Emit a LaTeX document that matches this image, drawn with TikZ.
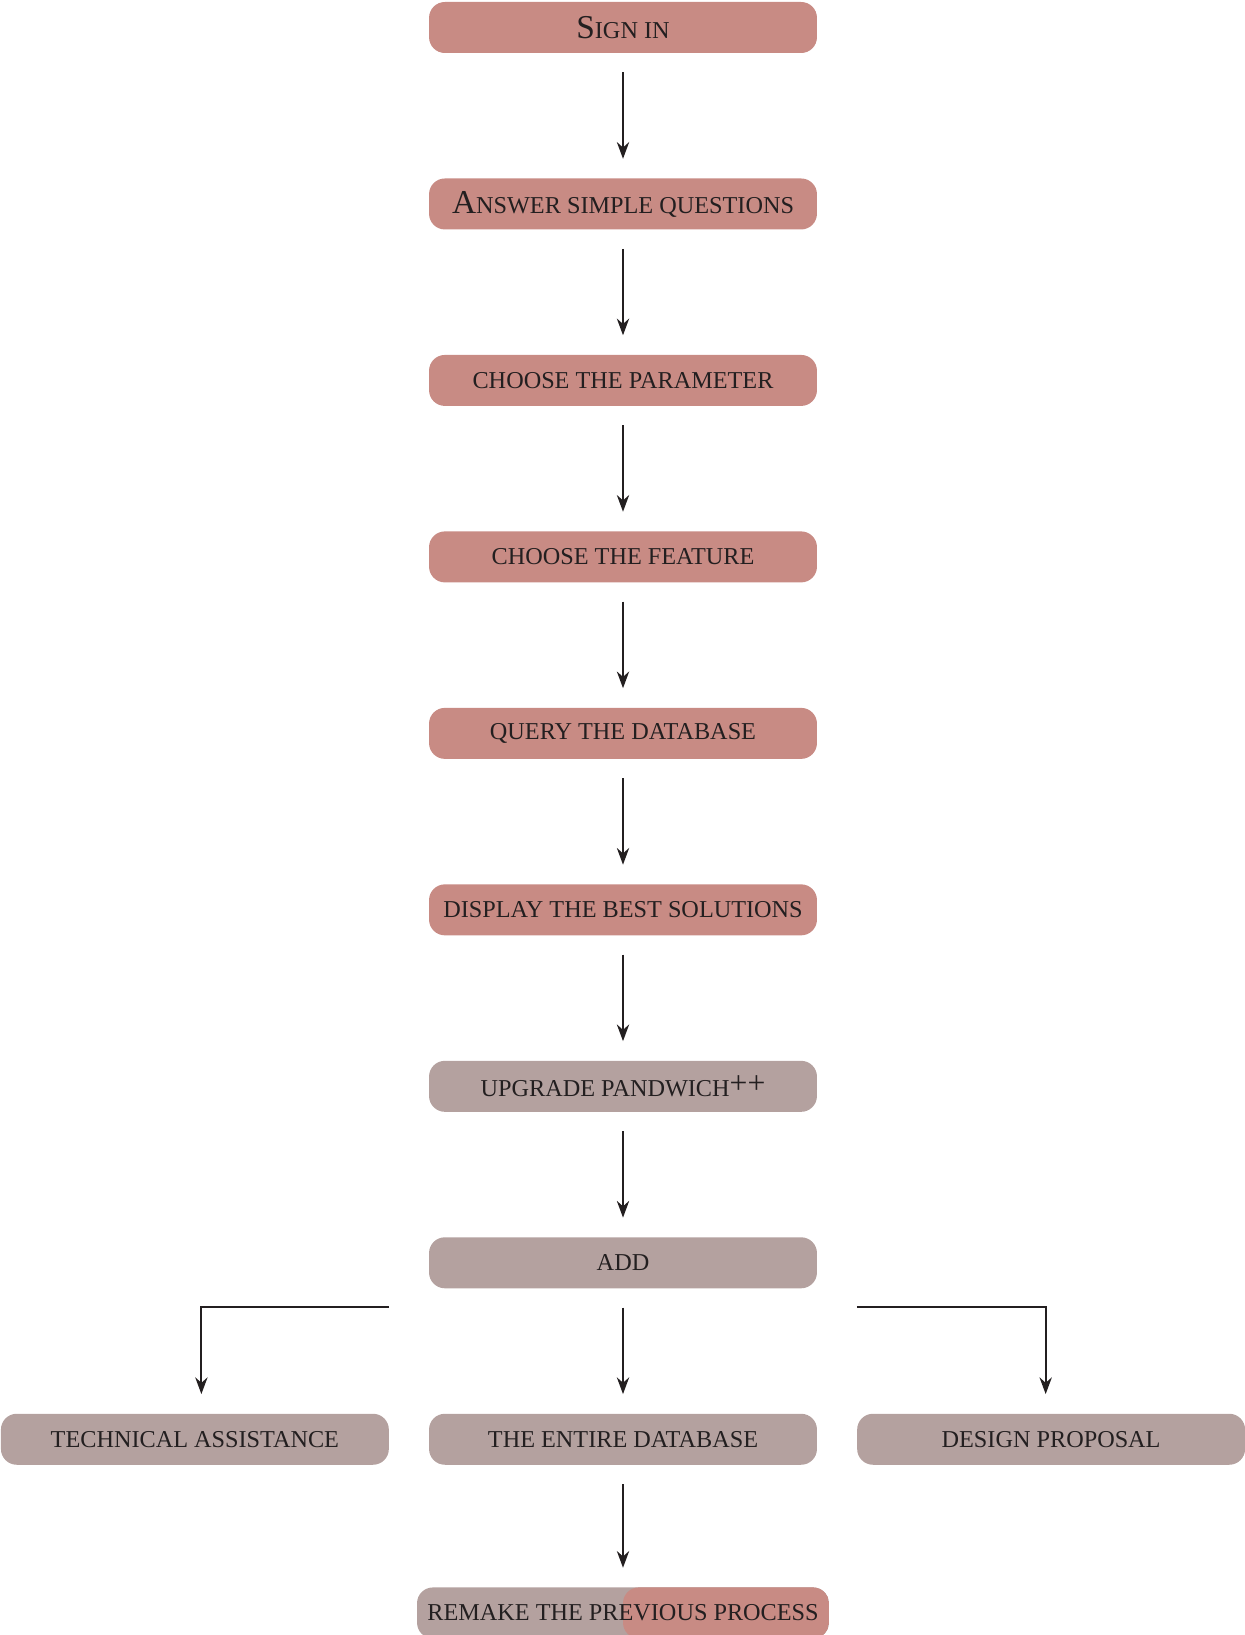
\documentclass[tikz,border=0pt]{standalone}
\usepackage{fontspec}
\setmainfont{Liberation Serif}
\usetikzlibrary{arrows.meta,positioning}
\definecolor{stepred}{RGB}{200,139,132}
\definecolor{stepgrey}{RGB}{180,161,159}
\definecolor{steptext}{RGB}{35,31,32}
\newcommand{\initial}[1]{{\fontsize{19}{20}\selectfont #1}}

\begin{document}
\begin{tikzpicture}[x=0.02cm, y=-0.02cm,
  node distance=2.496cm and 0.79cm,
  task/.style={rectangle, rounded corners=9pt, fill=stepred, text=steptext,
    minimum width=7.76cm, minimum height=1.02cm, inner sep=0pt,
    font=\fontsize{13.8}{16}\selectfont, align=center},
  extra/.style={task, fill=stepgrey},
  remake/.style={task, fill=stepgrey, minimum width=8.24cm,
    path picture={\fill[stepred] (path picture bounding box.north)
      rectangle (path picture bounding box.south east);}},
  flow/.style={-{Stealth[length=9.5pt, width=7pt]}, line width=1.1pt,
    color=steptext, shorten <=10.8pt, shorten >=11pt}
]
\useasboundingbox (0,0) rectangle (1244,1635);

% Main sequence
\node[task] (signin) at (623,27.5) {\initial{S}IGN IN};
\node[task, below=of signin] (answer) {\initial{A}NSWER SIMPLE QUESTIONS};
\node[task, below=of answer] (param) {CHOOSE THE PARAMETER};
\node[task, below=of param] (feature) {CHOOSE THE FEATURE};
\node[task, below=of feature] (query) {QUERY THE DATABASE};
\node[task, below=of query] (display) {DISPLAY THE BEST SOLUTIONS};

% Upgrade path
\node[extra, below=of display] (upgrade) {UPGRADE PANDWICH\raisebox{0.25ex}{\fontsize{18}{18}\selectfont ++}};
\node[extra, below=of upgrade] (add) {ADD};
\node[extra, below=of add] (whole) {THE ENTIRE DATABASE};
\node[extra, left=of whole] (tech) {TECHNICAL ASSISTANCE};
\node[extra, right=of whole] (design) {DESIGN PROPOSAL};
\node[remake, below=2.44cm of whole] (again) {REMAKE THE PREVIOUS PROCESS};

% Arrows
\draw[flow] (signin) -- (answer);
\draw[flow] (answer) -- (param);
\draw[flow] (param) -- (feature);
\draw[flow] (feature) -- (query);
\draw[flow] (query) -- (display);
\draw[flow] (display) -- (upgrade);
\draw[flow] (upgrade) -- (add);
\coordinate (split) at ([yshift=-10.2pt]add.south);
\draw[flow, shorten <=0pt] (split -| tech.east) -| ([xshift=3.7pt]tech.north);
\draw[flow] (add) -- (whole);
\draw[flow, shorten <=0pt] (split -| design.west) -| ([xshift=-3.1pt]design.north);
\draw[flow] (whole) -- (again);

\end{tikzpicture}
\end{document}
